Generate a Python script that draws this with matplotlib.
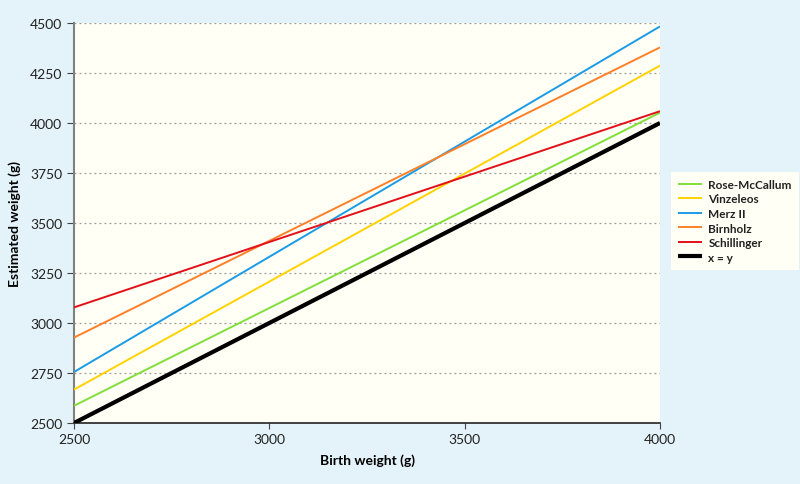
import matplotlib
matplotlib.use("Agg")
import matplotlib.pyplot as plt

plt.rcParams['font.family'] = ['Lato', 'DejaVu Sans']

# birth weight range (g)
x_vals = [2500, 4000]

# estimated weight at each end (g)
names   = ["Rose-McCallum", "Vinzeleos", "Merz II", "Birnholz", "Schillinger", "x = y"]
rose    = [2586, 4052]
vinz    = [2667, 4287]
merz    = [2755, 4483]
birn    = [2927, 4378]
schill  = [3078, 4059]
ident   = [2500, 4000]
colors  = ["#7fe03a", "#ffd200", "#1a9be6", "#ff7f27", "#e3101a", "#000000"]
widths  = [1.4, 1.4, 1.4, 1.4, 1.4, 3.0]

yticks = [2500, 2750, 3000, 3250, 3500, 3750, 4000, 4250, 4500]
xticks = [2500, 3000, 3500, 4000]

fig = plt.figure(figsize=(8, 4.85), dpi=100, facecolor="#e4f3f9")
ax = fig.add_axes([0.0925, 0.1258, 0.7325, 0.8247])
ax.set_facecolor("#fffff5")

series = [rose, vinz, merz, birn, schill, ident]
for nm, s, c, w in zip(names, series, colors, widths):
    ax.plot(x_vals, s, color=c, lw=w, label=nm, solid_capstyle="butt", zorder=3)

ax.set_xlim(2500, 4000)
ax.set_ylim(2500, 4500)
ax.set_xticks(xticks)
ax.set_yticks(yticks)
ax.yaxis.grid(True, linestyle=(0, (1.5, 2.5)), color="#999999", lw=0.9)
ax.set_axisbelow(True)

for sp in ["top", "right"]:
    ax.spines[sp].set_visible(False)
ax.spines["left"].set_color("#808080")
ax.spines["left"].set_linewidth(1.5)
ax.spines["bottom"].set_color("#222222")
ax.spines["bottom"].set_linewidth(1.2)
ax.tick_params(axis="y", colors="#444444", labelcolor="#222222", length=5, labelsize=10)
ax.tick_params(axis="x", colors="#444444", labelcolor="#222222", length=4, labelsize=10)

ax.set_xlabel("Birth weight (g)", fontsize=10, fontweight="bold", labelpad=6)
ax.set_ylabel("Estimated weight (g)", fontsize=10, fontweight="bold", labelpad=6)

leg = ax.legend(loc="upper left", bbox_to_anchor=(1.018, 0.628), frameon=True,
                fontsize=8.5, handlelength=2.1, handletextpad=0.5,
                labelspacing=0.3, borderpad=0.6, borderaxespad=0)
leg.get_frame().set_facecolor("#fffff5")
leg.get_frame().set_edgecolor("none")
leg.get_frame().set_alpha(1)
leg.get_frame().set_boxstyle("square", pad=0)
for t in leg.get_texts():
    t.set_fontweight("bold")
    t.set_color("#222222")

fig.savefig("out.png", dpi=100, facecolor=fig.get_facecolor())
